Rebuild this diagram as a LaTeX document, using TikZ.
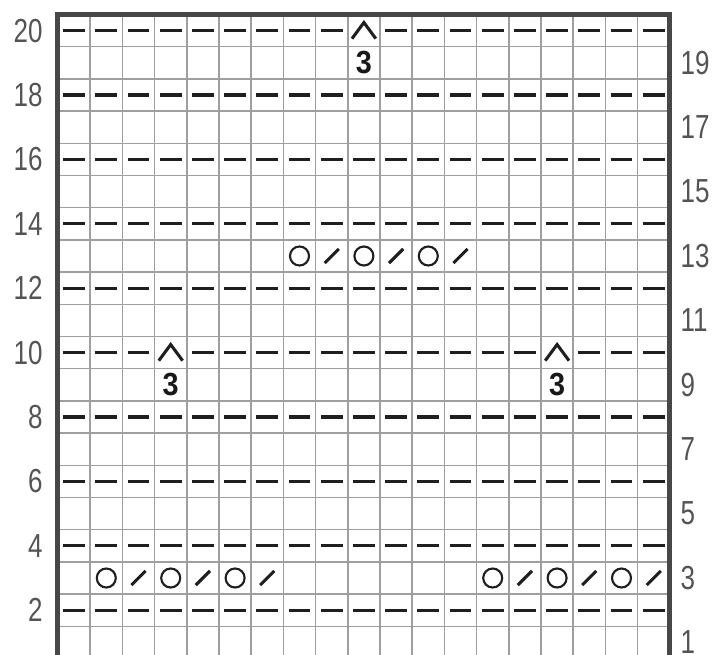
\documentclass[tikz,border=0pt]{standalone}
\usepackage{fontspec}
\setmainfont{Liberation Sans}
\newfontfamily\chartnum[FakeStretch=0.78]{Liberation Sans}
\newfontfamily\chartbold[FakeStretch=0.9]{Liberation Sans}

\begin{document}
\begin{tikzpicture}[
  x=24.15pt,y=-24.15pt,
  gridline/.style={line width=1.1pt,gray!75},
  frame/.style={line width=3.75pt,black!72,line join=miter},
  purl/.style={line width=2.3pt,black!88},
  yarn/.style={line width=1.6pt,black!88},
  rowlabel/.style={inner sep=0pt,text=black!67,font=\chartnum\fontsize{25}{25}\selectfont},
  count/.style={inner sep=0pt,text=black!90,font=\chartbold\bfseries\fontsize{24}{24}\selectfont}
]
\useasboundingbox (-1.801,-0.45) rectangle (20.714,19.891);
\clip (-1.801,-0.45) rectangle (20.714,19.891);

% grid
\foreach \c in {1,...,18}
  \draw[gridline] (\c,0) -- (\c,20.5);
\foreach \y in {1,...,19}
  \draw[gridline] (0,\y) -- (19,\y);
\draw[frame] (0,20.5) -- (0,0) -- (19,0) -- (19,20.5);

% purl rows
\foreach \r in {2,4,6,8,12,14,16,18}
  \foreach \c in {1,...,19}
    \draw[purl] (\c-0.84,20.5-\r) -- (\c-0.16,20.5-\r);
\foreach \c in {1,...,9,11,12,...,19}
  \draw[purl] (\c-0.84,0.5) -- (\c-0.16,0.5);
\foreach \c in {1,2,3,5,6,...,15,17,18,19}
  \draw[purl] (\c-0.84,10.5) -- (\c-0.16,10.5);

% decreases
\foreach \r/\c in {20/10,10/4,10/16} {
  \draw[purl,line join=miter] (\c-0.87,20.75-\r) -- (\c-0.5,20.25-\r) -- (\c-0.13,20.75-\r);
  \node[count] (n\r-\c) at (\c-0.5,21.5-\r) {3};
}

% yarn overs
\foreach \r/\c in {3/2,3/4,3/6,3/14,3/16,3/18,13/8,13/10,13/12}
  \draw[yarn] (\c-0.5,20.5-\r) circle (0.295);
\foreach \r/\c in {3/3,3/5,3/7,3/15,3/17,3/19,13/9,13/11,13/13}
  \draw[purl] (\c-0.72,20.72-\r) -- (\c-0.28,20.28-\r);

% row numbers
\foreach \r in {2,4,...,20}
  \node[rowlabel,anchor=east] (l\r) at (-0.47,20.5-\r) {\r};
\foreach \r in {1,3,...,19}
  \node[rowlabel,anchor=west] (r\r) at (19.33,20.5-\r) {\r};
\end{tikzpicture}
\end{document}
